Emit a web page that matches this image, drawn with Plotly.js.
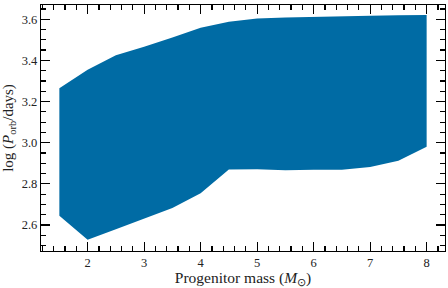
<!DOCTYPE html>
<html>
<head>
<meta charset="utf-8">
<script src="https://cdn.plot.ly/plotly-3.0.1.min.js"></script>
<style>html,body{margin:0;padding:0;background:#fff;}#chart{width:448px;height:288px;}</style>
</head>
<body>
<div id="chart"></div>
<script>
const mass = [1.5, 2.0, 2.5, 3.0, 3.5, 4.0, 4.5, 5.0, 5.5, 6.0, 6.5, 7.0, 7.5, 8.0];
const logPmin = [2.645, 2.529, 2.58, 2.63, 2.683, 2.755, 2.870, 2.871, 2.866, 2.869, 2.869, 2.882, 2.912, 2.98];
const logPmax = [3.265, 3.355, 3.425, 3.466, 3.511, 3.558, 3.588, 3.603, 3.608, 3.612, 3.615, 3.617, 3.619, 3.620];
const xTicks = [2, 3, 4, 5, 6, 7, 8];
const yTicks = [2.6, 2.8, 3.0, 3.2, 3.4, 3.6];
const yTickText = ['2.6', '2.8', '3.0', '3.2', '3.4', '3.6'];

const fillColor = 'rgb(0,107,164)';
const font = 'Liberation Serif, Times New Roman, serif';

const traces = [
  {x: mass, y: logPmin, type: 'scatter', mode: 'lines', line: {width: 0, color: fillColor}, hoverinfo: 'skip', showlegend: false},
  {x: mass, y: logPmax, type: 'scatter', mode: 'lines', line: {width: 0, color: fillColor}, fill: 'tonexty', fillcolor: fillColor, hoverinfo: 'skip', showlegend: false}
];

const axisCommon = {
  showgrid: false, zeroline: false, showline: true, linecolor: '#000', linewidth: 1.2,
  mirror: 'allticks', ticks: 'inside', ticklen: 9, tickwidth: 1.2, tickcolor: '#000',
  tickfont: {family: font, size: 12.5, color: '#222'}
};

const layout = {
  width: 448, height: 288,
  margin: {l: 41, r: 3, t: 5, b: 37},
  paper_bgcolor: '#fff', plot_bgcolor: '#fff',
  showlegend: false,
  xaxis: Object.assign({}, axisCommon, {
    range: [1.175, 8.325], tickmode: 'array', tickvals: xTicks, ticktext: xTicks.map(String),
    minor: {dtick: 0.2, tick0: 0, ticks: 'inside', ticklen: 5, tickwidth: 1.2, tickcolor: '#000', showgrid: false},
    title: {text: 'Progenitor mass (<i>M</i><sub>⊙</sub>)', font: {family: font, size: 15.5, color: '#222'}, standoff: 8}
  }),
  yaxis: Object.assign({}, axisCommon, {
    range: [2.474, 3.669], tickmode: 'array', tickvals: yTicks, ticktext: yTickText,
    minor: {dtick: 0.05, tick0: 0, ticks: 'inside', ticklen: 5, tickwidth: 1.2, tickcolor: '#000', showgrid: false},
    title: {text: 'log (<i>P</i><sub>orb</sub>/days)', font: {family: font, size: 15, color: '#222'}, standoff: 4}
  })
};

Plotly.newPlot('chart', traces, layout, {staticPlot: true, displayModeBar: false});
</script>
</body>
</html>
